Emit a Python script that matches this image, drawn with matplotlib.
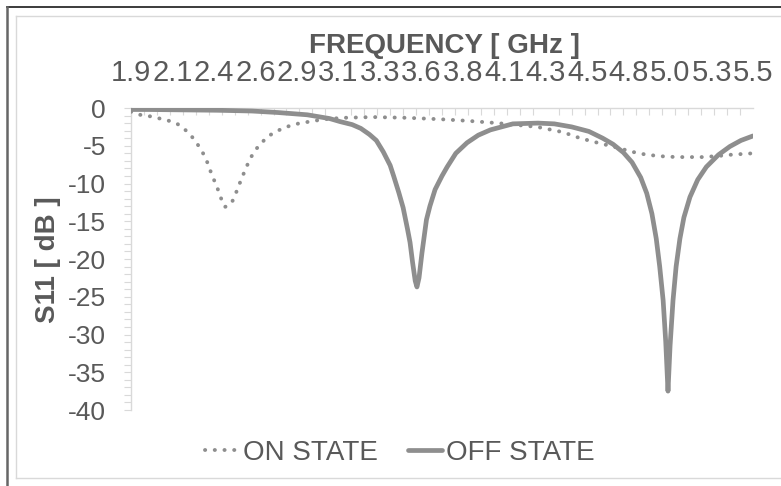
import numpy as np
import matplotlib
matplotlib.use('Agg')
import matplotlib.pyplot as plt
from matplotlib.lines import Line2D
from matplotlib.ticker import MultipleLocator, FixedLocator

plt.rcParams['font.family'] = ['Liberation Sans', 'DejaVu Sans']
plt.rcParams['axes.unicode_minus'] = False

# ON STATE (dotted)
on_freq = [1.90, 1.952, 2.01, 2.062, 2.12, 2.168, 2.21, 2.251, 2.285, 2.315, 2.34, 2.359,
           2.38, 2.40, 2.42, 2.444, 2.465, 2.484, 2.505, 2.527, 2.55, 2.57, 2.60, 2.622,
           2.66, 2.70, 2.75, 2.80, 2.86, 2.909, 3.013, 3.125, 3.30, 3.50, 3.70, 3.85,
           4.02, 4.25, 4.40, 4.50, 4.60, 4.69, 4.80, 4.886, 5.00, 5.08, 5.21, 5.30,
           5.366, 5.50]
on_s11 = [-0.5, -0.9, -1.1, -1.37, -1.7, -2.1, -2.8, -3.75, -4.8, -5.9, -7.1, -8.3,
          -9.5, -10.6, -11.9, -13.1, -12.9, -12.5, -11.4, -10.1, -8.8, -7.7, -6.3, -5.5,
          -4.5, -3.65, -3.0, -2.5, -2.1, -1.9, -1.5, -1.3, -1.2, -1.3, -1.5, -1.7,
          -2.0, -2.5, -3.2, -4.0, -4.6, -5.1, -5.8, -6.2, -6.45, -6.5, -6.5, -6.35,
          -6.2, -6.0]

# OFF STATE (solid)
off_freq = [1.90, 2.00, 2.20, 2.40, 2.60, 2.75, 2.92, 3.05, 3.11, 3.18, 3.23, 3.28,
            3.32, 3.36, 3.40, 3.42, 3.45, 3.475, 3.50, 3.515, 3.53, 3.545, 3.555, 3.567,
            3.584, 3.61, 3.63, 3.66, 3.70, 3.73, 3.78, 3.845, 3.91, 3.98, 4.11, 4.255,
            4.35, 4.45, 4.55, 4.63, 4.69, 4.75, 4.80, 4.85, 4.885, 4.915, 4.94, 4.96,
            4.98, 4.995, 5.008, 5.02, 5.037, 5.055, 5.077, 5.10, 5.135, 5.18, 5.23,
            5.30, 5.366, 5.43, 5.50]
off_s11 = [-0.2, -0.2, -0.25, -0.3, -0.4, -0.6, -0.9, -1.4, -1.8, -2.2, -2.7, -3.5,
           -4.3, -5.8, -7.6, -9.0, -11.2, -13.2, -16.0, -17.8, -20.5, -22.9, -23.7, -22.5,
           -19.2, -14.8, -13.0, -10.8, -9.0, -7.8, -6.0, -4.6, -3.6, -2.9, -2.1, -2.0,
           -2.1, -2.5, -3.1, -4.0, -4.8, -5.9, -7.2, -9.2, -11.3, -14.0, -17.3, -21.0,
           -25.5, -31.0, -37.5, -31.5, -25.5, -21.0, -17.3, -14.5, -11.8, -9.5, -7.8,
           -6.2, -5.1, -4.3, -3.7]

freq_labels = ['1.9', '2.1', '2.4', '2.6', '2.9', '3.1', '3.3', '3.6',
               '3.8', '4.1', '4.3', '4.5', '4.8', '5.0', '5.3', '5.5']

W, H = 781, 486
fig = plt.figure(figsize=(W / 100, H / 100), dpi=100)
ax = fig.add_axes([131 / W, 1 - 410 / H, (753 - 131) / W, (410 - 108) / H])

line_col = '#8e8e8e'
txt_col = '#595959'
grid_col = '#d9d9d9'

ax.plot(off_freq, off_s11, color=line_col, lw=3.4, solid_capstyle='round',
        solid_joinstyle='round', label='OFF STATE', zorder=3)
ax.plot(on_freq, on_s11, color=line_col, lw=2.8, linestyle=(0, (0.05, 2.45)),
        dash_capstyle='round', label='ON STATE', zorder=3)

ax.set_xlim(1.9, 5.5)
ax.set_ylim(-40, 0)

# x axis on top (crosses at 0)
ax.xaxis.set_ticks_position('top')
ax.xaxis.set_major_locator(FixedLocator(np.linspace(1.9, 5.5, len(freq_labels))))
ax.set_xticklabels(freq_labels)
ax.xaxis.set_minor_locator(FixedLocator(np.linspace(1.9, 5.5, 49)))
ax.tick_params(axis='x', which='major', length=0, pad=15, labelsize=21, labelcolor=txt_col)
ax.tick_params(axis='x', which='minor', direction='in', length=5, width=0.8, color=grid_col)

ax.yaxis.set_major_locator(MultipleLocator(5))
ax.yaxis.set_minor_locator(MultipleLocator(1))
ax.tick_params(axis='y', which='both', direction='out', length=5, width=0.8,
               color=grid_col, labelsize=19, labelcolor=txt_col, pad=13)

for side in ['right', 'bottom']:
    ax.spines[side].set_visible(False)
for side in ['top', 'left']:
    ax.spines[side].set_color(grid_col)
    ax.spines[side].set_linewidth(1)

fig.text(444 / W, 1 - 46 / H, 'FREQUENCY [ GHz ]', ha='center', va='center',
         fontsize=20, fontweight='bold', color=txt_col)
fig.text(48 / W, 1 - 260 / H, 'S11 [ dB ]', ha='center', va='center', rotation=90,
         fontsize=20, fontweight='bold', color=txt_col)

handles, labels = ax.get_legend_handles_labels()
leg = fig.legend(handles[::-1], labels[::-1], loc='center', bbox_to_anchor=(0.512, 1 - 453 / H),
                 ncol=2, frameon=False, fontsize=20, handlelength=1.2, handletextpad=0.15,
                 columnspacing=1.1, labelcolor=txt_col)

# chart frame borders
def fline(xs, ys, **kw):
    fig.add_artist(Line2D([x / W for x in xs], [1 - y / H for y in ys],
                          transform=fig.transFigure, **kw))

fline([16, W + 5], [16, 16], color=grid_col, lw=1)
fline([16, 16], [16, 478], color=grid_col, lw=1)
fline([16, W + 5], [478, 478], color=grid_col, lw=1)
fline([7, W + 5], [7.5, 7.5], color='#1a1a1a', lw=1.2)
fline([7.5, 7.5], [7, H + 5], color='#666666', lw=1.8)

fig.savefig('out.png', dpi=100)
